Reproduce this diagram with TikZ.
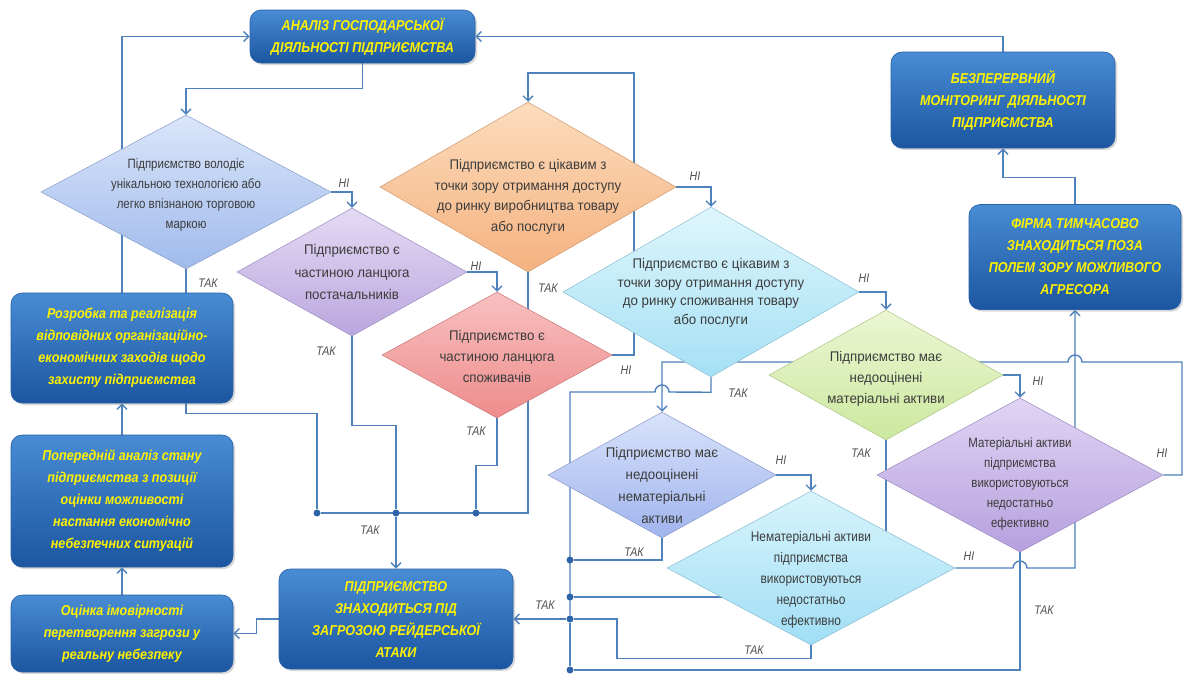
\documentclass[tikz,border=0pt]{standalone}
\usepackage{fontspec}
\setmainfont{Liberation Sans}
\newfontfamily\nar{Liberation Sans}[FakeStretch=0.85]
\newfontfamily\narw{Liberation Sans}[FakeStretch=0.95]
\newfontfamily\narb{Liberation Sans}[FakeStretch=0.88]
\usetikzlibrary{shapes.geometric,arrows.meta,shadows}
\pgfdeclarelayer{bg}
\pgfsetlayers{bg,main}
\definecolor{lineblue}{RGB}{79,129,189}
\definecolor{dotc}{RGB}{47,101,168}
\definecolor{boxtop}{RGB}{72,140,212}
\definecolor{boxbot}{RGB}{28,86,160}
\definecolor{boxedge}{RGB}{40,95,165}
\definecolor{txtgray}{RGB}{60,60,60}
\definecolor{labgray}{RGB}{80,80,80}
\definecolor{dat}{RGB}{218,230,250}\definecolor{dab}{RGB}{160,186,236}
\definecolor{dbt}{RGB}{228,218,244}\definecolor{dbb}{RGB}{186,166,222}
\definecolor{dct}{RGB}{248,192,192}\definecolor{dcb}{RGB}{238,140,140}
\definecolor{ddt}{RGB}{252,220,188}\definecolor{ddb}{RGB}{245,178,128}
\definecolor{det}{RGB}{222,246,252}\definecolor{deb}{RGB}{165,224,245}
\definecolor{dft}{RGB}{236,246,212}\definecolor{dfb}{RGB}{204,232,158}
\definecolor{dgt}{RGB}{224,212,244}\definecolor{dgb}{RGB}{182,160,222}
\definecolor{dht}{RGB}{216,226,250}\definecolor{dhb}{RGB}{160,180,238}
\definecolor{dit}{RGB}{216,244,252}\definecolor{dib}{RGB}{160,222,245}
\begin{document}
\begin{tikzpicture}[x=1pt,y=-1pt,
  conn/.style={draw=lineblue, line width=1.4pt},
  arr/.style={conn, -{Straight Barb[length=5pt,width=10pt]}},
  bbox/.style={rounded corners=11pt, top color=boxtop, bottom color=boxbot, draw=boxedge, line width=0.6pt,
     text=yellow, align=center, inner sep=0pt,
     font=\narb\bfseries\itshape\fontsize{14.3}{22}\selectfont,
     drop shadow={opacity=0.3, shadow xshift=2pt, shadow yshift=-2pt}},
  dia/.style n args={2}{diamond, inner sep=0pt, top color=#1, bottom color=#2, draw=#2!85!black, line width=0.5pt},
  dtext/.style={align=center, text=txtgray, inner sep=0pt, font=\nar\fontsize{13.5}{20}\selectfont},
  dtextw/.style={align=center, text=txtgray, inner sep=0pt, font=\narw\fontsize{14}{#1}\selectfont},
  lab/.style={text=labgray, inner sep=0pt, font=\nar\itshape\fontsize{12.5}{14}\selectfont},
  dotn/.style={circle, fill=dotc, inner sep=0pt, minimum size=7pt}]
\useasboundingbox (0,0) rectangle (1184,675);
\begin{pgfonlayer}{bg}
\fill[white] (0,0) rectangle (1184,675);
\end{pgfonlayer}

% boxes
\node[bbox, minimum width=225pt, minimum height=53pt] (A) at (362.5,36.5) {АНАЛІЗ ГОСПОДАРСЬКОЇ\\ДІЯЛЬНОСТІ ПІДПРИЄМСТВА};
\node[bbox, minimum width=224pt, minimum height=96pt] (M) at (1003,100) {БЕЗПЕРЕРВНИЙ\\МОНІТОРИНГ ДІЯЛЬНОСТІ\\ПІДПРИЄМСТВА};
\node[bbox, minimum width=212pt, minimum height=105pt] (F) at (1075,257) {ФІРМА ТИМЧАСОВО\\ЗНАХОДИТЬСЯ ПОЗА\\ПОЛЕМ ЗОРУ МОЖЛИВОГО\\АГРЕСОРА};
\node[bbox, minimum width=222pt, minimum height=110pt] (R) at (122,348) {Розробка та реалізація\\відповідних організаційно-\\економічних заходів щодо\\захисту підприємства};
\node[bbox, minimum width=222pt, minimum height=132pt] (P) at (122,501) {Попередній аналіз стану\\підприємства з позиції\\оцінки можливості\\настання економічно\\небезпечних ситуацій};
\node[bbox, minimum width=222pt, minimum height=77pt] (O) at (122,633.5) {Оцінка імовірності\\перетворення загрози у\\реальну небезпеку};
\node[bbox, minimum width=234pt, minimum height=100pt] (Z) at (396,619) {ПІДПРИЄМСТВО\\ЗНАХОДИТЬСЯ ПІД\\ЗАГРОЗОЮ РЕЙДЕРСЬКОЇ\\АТАКИ};

% diamonds
\node[dia={dat}{dab}, minimum width=290pt, minimum height=154pt] (d1) at (186,192) {};
\node[dia={dbt}{dbb}, minimum width=230pt, minimum height=128pt] (d2) at (352,272) {};
\node[dia={dct}{dcb}, minimum width=230pt, minimum height=126pt] (d3) at (497,355) {};
\node[dia={ddt}{ddb}, minimum width=296pt, minimum height=170pt] (d4) at (528,187) {};
\node[dia={det}{deb}, minimum width=296pt, minimum height=170pt] (d5) at (711,292) {};
\node[dia={dft}{dfb}, minimum width=234pt, minimum height=130pt] (d6) at (886,375) {};
\node[dia={dgt}{dgb}, minimum width=286pt, minimum height=154pt] (d7) at (1020,475) {};
\node[dia={dht}{dhb}, minimum width=228pt, minimum height=126pt] (d8) at (662,475) {};
\node[dia={dit}{dib}, minimum width=288pt, minimum height=154pt] (d9) at (811,568) {};

\node[dtext, yshift=-3pt] (t1) at (d1) {Підприємство володіє\\унікальною технологією або\\легко впізнаною торговою\\маркою};
\node[dtextw=22.5] (t2) at (d2) {Підприємство є\\частиною ланцюга\\постачальників};
\node[dtextw=21, yshift=-1pt] (t3) at (d3) {Підприємство є\\частиною ланцюга\\споживачів};
\node[dtextw=20.5, yshift=-10pt] (t4) at (d4) {Підприємство є цікавим з\\точки зору отримання доступу\\до ринку виробництва товару\\або послуги};
\node[dtextw=18.5, yshift=-1pt] (t5) at (d5) {Підприємство є цікавим з\\точки зору отримання доступу\\до ринку споживання товару\\або послуги};
\node[dtextw=21, yshift=-4pt] (t6) at (d6) {Підприємство має\\недооцінені\\матеріальні активи};
\node[dtext, yshift=-9pt] (t7) at (d7) {Матеріальні активи\\підприємства\\використовуються\\недостатньо\\ефективно};
\node[dtextw=22, yshift=-10pt] (t8) at (d8) {Підприємство має\\недооцінені\\нематеріальні\\активи};
\node[dtext, yshift=-12pt, font=\nar\fontsize{14}{21}\selectfont] (t9) at (d9) {Нематеріальні активи\\підприємства\\використовуються\\недостатньо\\ефективно};

% dots
\node[dotn] (bl1) at (317,513) {};
\node[dotn] (bl2) at (396,513) {};
\node[dotn] (bl3) at (476,513) {};
\node[dotn] (br1) at (570,560) {};
\node[dotn] (br2) at (570,597) {};
\node[dotn] (br3) at (570,619) {};
\node[dotn] (br4) at (570,670) {};

% labels
\node[lab] (n1) at (344,183) {НІ};
\node[lab] (n2) at (476,266) {НІ};
\node[lab] (n3) at (626,370) {НІ};
\node[lab] (n4) at (695,176) {НІ};
\node[lab] (n5) at (864,278) {НІ};
\node[lab] (n6) at (1038,381) {НІ};
\node[lab] (n7) at (1162,453) {НІ};
\node[lab] (n8) at (781,460) {НІ};
\node[lab] (n9) at (969,556) {НІ};
\node[lab] (k1) at (208,283) {ТАК};
\node[lab] (k2) at (326,351) {ТАК};
\node[lab] (k3) at (476,431) {ТАК};
\node[lab] (k4) at (548,288) {ТАК};
\node[lab] (k5) at (370,530) {ТАК};
\node[lab] (k6) at (738,393) {ТАК};
\node[lab] (k7) at (861,453) {ТАК};
\node[lab] (k8) at (634,552) {ТАК};
\node[lab] (k9) at (754,650) {ТАК};
\node[lab] (k10) at (1044,610) {ТАК};
\node[lab] (k11) at (545,605) {ТАК};

\begin{pgfonlayer}{bg}
% top loop
\draw[arr] (A.south) -- ++(0,25) -| (d1.north);
\draw[arr] (R.north) |- (A.west);
\draw[arr] (M.north) |- (A.east);
\draw[arr] (F.north) -- ++(0,-27) -| (M.south);
% NI chain
\draw[arr] (d1.east) -| (d2.north);
\draw[arr] (d2.east) -| (d3.north);
\draw[arr] (d3.east) -- (634,355) -- (634,73) -| (d4.north);
\draw[arr] (d4.east) -| (d5.north);
\draw[arr] (d5.east) -| (d6.north);
\draw[arr] (d6.east) -| (d7.north);
\draw[arr] (d8.east) -| (d9.north);
\draw[arr] (d7.east) -- (1182,475) -- (1182,362) -- (1082,362)
   arc[start angle=0, end angle=180, radius=7pt] -| (d8.north);
\draw[arr] (d9.east) -- (1013,568) arc[start angle=180, end angle=0, radius=7pt] -| (F.south);
% left TAK bus
\draw[conn] (d1.south) -- (d1.south |- R.north);
\draw[conn] ([xshift=64pt]R.south) -- ++(0,10) -| (bl1);
\draw[conn] (d2.south) -- ++(0,89) -| (bl2);
\draw[conn] (d3.south) -- ++(0,47) -| (bl3);
\draw[conn] (d4.south) |- (bl1);
\draw[arr] (bl2) -- (Z.north);
% right TAK bus
\draw[conn] (d5.south) -- ++(0,15) -- (669,392)
   arc[start angle=0, end angle=180, radius=7pt] -- (570,392) -- (br3);
\draw[conn] (d8.south) |- (br1);
\draw[conn] (d6.south) |- (br2);
\draw[conn] (d9.south) -- ++(0,13) -| (617,619) -- (br3);
\draw[conn] (d7.south) |- (br4);
\draw[conn] (br4) -- (br3);
\draw[arr] (br3) -- (Z.east);
% left column
\draw[arr] (P.north) -- (R.south);
\draw[arr] (O.north) -- (P.south);
\draw[arr] (Z.west) -- ++(-22,0) |- (O.east);
\end{pgfonlayer}
\end{tikzpicture}
\end{document}
